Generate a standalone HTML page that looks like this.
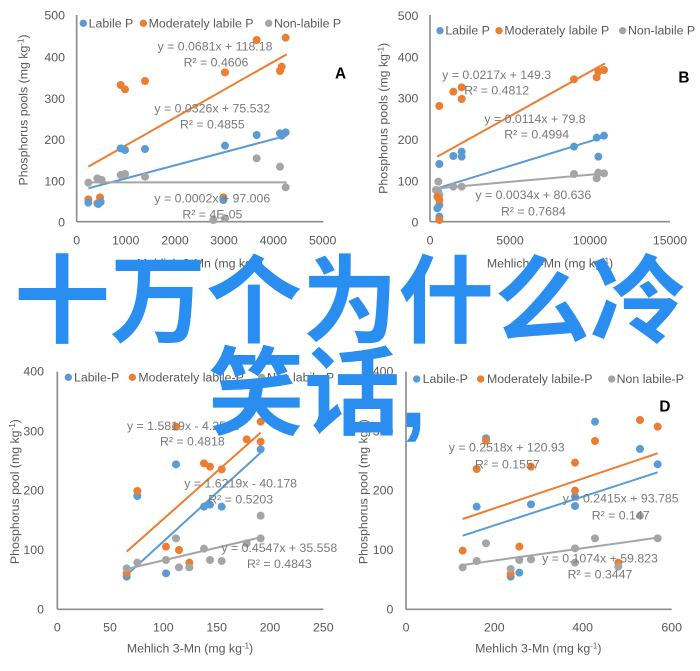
<!DOCTYPE html>
<html><head><meta charset="utf-8"><style>
html,body{margin:0;padding:0;background:#fff;width:700px;height:671px;overflow:hidden;position:relative}
svg{position:absolute;left:0;top:0}
.t{font-family:"Liberation Sans",sans-serif;fill:#595959;font-size:37px}
.e{font-family:"Liberation Sans",sans-serif;fill:#7a7a7a;font-size:37px}
.big{position:absolute;font-family:"Liberation Sans","Noto Sans CJK SC",sans-serif;font-weight:700;color:#2a8ef0;font-size:96px;line-height:96px;white-space:nowrap}
</style></head><body>
<svg width="700" height="671" viewBox="0 0 700 671">
<!-- Chart A -->
<g transform="translate(0,0) scale(0.33333)">
<line x1="230" y1="45" x2="230" y2="665" stroke="#8c8c8c" stroke-width="5"/>
<line x1="230" y1="665" x2="970" y2="665" stroke="#8c8c8c" stroke-width="5"/>
<g class="t" text-anchor="end"><text x="195" y="58">500</text><text x="195" y="184">400</text><text x="195" y="309">300</text><text x="195" y="432">200</text><text x="195" y="557">100</text><text x="195" y="680">0</text></g>
<g class="t" text-anchor="middle"><text x="230" y="734">0</text><text x="377" y="734">1000</text><text x="525" y="734">2000</text><text x="672" y="734">3000</text><text x="820" y="734">4000</text><text x="968" y="734">5000</text>
<text x="600" y="802">Mehlich 3-Mn (mg kg<tspan dy="-12" font-size="24">-1</tspan><tspan dy="12">)</tspan></text>
<text transform="translate(82,330) rotate(-90)">Phosphorus pools (mg kg<tspan dy="-12" font-size="24">-1</tspan><tspan dy="12">)</tspan></text></g>
<g class="t"><circle cx="250" cy="70" r="11" fill="#5b9bd5"/><text x="266" y="82">Labile P</text>
<circle cx="430" cy="70" r="11" fill="#ed7d31"/><text x="446" y="82">Moderately labile P</text>
<circle cx="806" cy="70" r="11" fill="#a5a5a5"/><text x="822" y="82">Non-labile P</text></g>
<text x="1005" y="235" font-family="Liberation Sans" font-weight="bold" font-size="46">A</text>
<line x1="265" y1="500" x2="860" y2="163" stroke="#ed7d31" stroke-width="6"/>
<line x1="265" y1="565" x2="860" y2="407" stroke="#5b9bd5" stroke-width="6"/>
<line x1="265" y1="547" x2="860" y2="547" stroke="#a5a5a5" stroke-width="6"/>
<g fill="#ed7d31"><circle cx="265" cy="598" r="12"/><circle cx="292" cy="610" r="12"/><circle cx="300" cy="592" r="12"/><circle cx="362" cy="255" r="12"/><circle cx="375" cy="268" r="12"/><circle cx="435" cy="243" r="12"/><circle cx="675" cy="217" r="12"/><circle cx="770" cy="120" r="12"/><circle cx="840" cy="213" r="12"/><circle cx="845" cy="200" r="12"/><circle cx="857" cy="113" r="12"/><circle cx="670" cy="592" r="12"/></g>
<g fill="#5b9bd5"><circle cx="265" cy="608" r="12"/><circle cx="295" cy="612" r="12"/><circle cx="302" cy="606" r="12"/><circle cx="362" cy="445" r="12"/><circle cx="375" cy="450" r="12"/><circle cx="435" cy="447" r="12"/><circle cx="675" cy="437" r="12"/><circle cx="770" cy="405" r="12"/><circle cx="840" cy="400" r="12"/><circle cx="845" cy="407" r="12"/><circle cx="857" cy="397" r="12"/><circle cx="670" cy="600" r="12"/></g>
<g fill="#a5a5a5"><circle cx="265" cy="548" r="12"/><circle cx="292" cy="535" r="12"/><circle cx="305" cy="540" r="12"/><circle cx="362" cy="525" r="12"/><circle cx="375" cy="522" r="12"/><circle cx="435" cy="530" r="12"/><circle cx="640" cy="660" r="12"/><circle cx="675" cy="655" r="12"/><circle cx="770" cy="475" r="12"/><circle cx="840" cy="500" r="12"/><circle cx="857" cy="562" r="12"/></g>
<g class="e" text-anchor="middle"><text x="645" y="152">y = 0.0681x + 118.18</text><text x="648" y="200">R² = 0.4606</text>
<text x="637" y="337">y = 0.0326x + 75.532</text><text x="637" y="385">R² = 0.4855</text>
<text x="637" y="608">y = 0.0002x + 97.006</text><text x="637" y="655">R² = 4E-05</text></g>
</g>
<!-- Chart B -->
<g transform="translate(350,0) scale(0.33333)">
<line x1="240" y1="45" x2="240" y2="665" stroke="#8c8c8c" stroke-width="5"/>
<line x1="240" y1="665" x2="960" y2="665" stroke="#8c8c8c" stroke-width="5"/>
<g class="t" text-anchor="end"><text x="205" y="60">500</text><text x="205" y="184">400</text><text x="205" y="307">300</text><text x="205" y="432">200</text><text x="205" y="557">100</text><text x="205" y="680">0</text></g>
<g class="t" text-anchor="middle"><text x="240" y="734">0</text><text x="480" y="734">5000</text><text x="720" y="734">10000</text><text x="960" y="734">15000</text>
<text x="600" y="802">Mehlich 3-Mn (mg kg<tspan dy="-12" font-size="24">-1</tspan><tspan dy="12">)</tspan></text>
<text transform="translate(112,355) rotate(-90)">Phosphorus pools (mg kg<tspan dy="-12" font-size="24">-1</tspan><tspan dy="12">)</tspan></text></g>
<g class="t"><circle cx="270" cy="92" r="11" fill="#5b9bd5"/><text x="286" y="104">Labile P</text>
<circle cx="447" cy="92" r="11" fill="#ed7d31"/><text x="463" y="104">Moderately labile P</text>
<circle cx="818" cy="92" r="11" fill="#a5a5a5"/><text x="834" y="104">Non-labile P</text></g>
<text x="985" y="248" font-family="Liberation Sans" font-weight="bold" font-size="46">B</text>
<line x1="262" y1="470" x2="765" y2="190" stroke="#ed7d31" stroke-width="6"/>
<line x1="262" y1="565" x2="765" y2="410" stroke="#5b9bd5" stroke-width="6"/>
<line x1="262" y1="565" x2="765" y2="520" stroke="#a5a5a5" stroke-width="6"/>
<g fill="#5b9bd5"><circle cx="268" cy="492" r="12"/><circle cx="310" cy="468" r="12"/><circle cx="335" cy="455" r="12"/><circle cx="335" cy="470" r="12"/><circle cx="672" cy="440" r="12"/><circle cx="740" cy="413" r="12"/><circle cx="745" cy="470" r="12"/><circle cx="762" cy="407" r="12"/><circle cx="262" cy="625" r="12"/><circle cx="268" cy="650" r="12"/><circle cx="268" cy="615" r="12"/></g>
<g fill="#a5a5a5"><circle cx="265" cy="545" r="12"/><circle cx="265" cy="575" r="12"/><circle cx="268" cy="585" r="12"/><circle cx="310" cy="560" r="12"/><circle cx="335" cy="560" r="12"/><circle cx="672" cy="522" r="12"/><circle cx="740" cy="535" r="12"/><circle cx="745" cy="518" r="12"/><circle cx="762" cy="520" r="12"/><circle cx="258" cy="570" r="12"/></g>
<g fill="#ed7d31"><circle cx="268" cy="318" r="12"/><circle cx="310" cy="275" r="12"/><circle cx="335" cy="262" r="12"/><circle cx="335" cy="297" r="12"/><circle cx="672" cy="238" r="12"/><circle cx="740" cy="232" r="12"/><circle cx="745" cy="215" r="12"/><circle cx="762" cy="210" r="12"/><circle cx="262" cy="590" r="12"/><circle cx="268" cy="600" r="12"/><circle cx="268" cy="660" r="12"/></g>
<g class="e" text-anchor="middle"><text x="440" y="237">y = 0.0217x + 149.3</text><text x="440" y="284">R² = 0.4812</text>
<text x="555" y="369">y = 0.0114x + 79.8</text><text x="560" y="416">R² = 0.4994</text>
<text x="550" y="597">y = 0.0034x + 80.636</text><text x="550" y="646">R² = 0.7684</text></g>
</g>
<!-- Chart C -->
<g transform="translate(0,370) scale(0.33333)">
<line x1="172" y1="5" x2="172" y2="718" stroke="#8c8c8c" stroke-width="5"/>
<line x1="172" y1="718" x2="970" y2="718" stroke="#8c8c8c" stroke-width="5"/>
<g class="t" text-anchor="end"><text x="132" y="17">400</text><text x="132" y="197">300</text><text x="132" y="374">200</text><text x="132" y="552">100</text><text x="132" y="730">0</text></g>
<g class="t" text-anchor="middle"><text x="172" y="784">0</text><text x="330" y="784">50</text><text x="490" y="784">100</text><text x="650" y="784">150</text><text x="810" y="784">200</text><text x="970" y="784">250</text>
<text x="570" y="847">Mehlich 3-Mn (mg kg<tspan dy="-12" font-size="24">-1</tspan><tspan dy="12">)</tspan></text>
<text transform="translate(57,365) rotate(-90)">Phosphorus pool (mg kg<tspan dy="-12" font-size="24">-1</tspan><tspan dy="12">)</tspan></text></g>
<g class="t"><circle cx="205" cy="22" r="11" fill="#5b9bd5"/><text x="222" y="34">Labile-P</text>
<circle cx="397" cy="22" r="11" fill="#ed7d31"/><text x="415" y="34">Moderately labile-P</text>
<circle cx="785" cy="22" r="11" fill="#a5a5a5"/><text x="801" y="34">Non labile-P</text></g>
<line x1="380" y1="545" x2="782" y2="188" stroke="#ed7d31" stroke-width="6"/>
<line x1="380" y1="615" x2="782" y2="248" stroke="#5b9bd5" stroke-width="6"/>
<line x1="380" y1="597" x2="782" y2="502" stroke="#a5a5a5" stroke-width="6"/>
<g fill="#5b9bd5"><circle cx="380" cy="620" r="12"/><circle cx="412" cy="378" r="12"/><circle cx="498" cy="610" r="12"/><circle cx="528" cy="283" r="12"/><circle cx="612" cy="410" r="12"/><circle cx="630" cy="404" r="12"/><circle cx="665" cy="410" r="12"/><circle cx="782" cy="238" r="12"/></g>
<g fill="#ed7d31"><circle cx="380" cy="610" r="12"/><circle cx="412" cy="363" r="12"/><circle cx="498" cy="530" r="12"/><circle cx="528" cy="170" r="12"/><circle cx="537" cy="540" r="12"/><circle cx="568" cy="578" r="12"/><circle cx="612" cy="280" r="12"/><circle cx="630" cy="290" r="12"/><circle cx="665" cy="298" r="12"/><circle cx="740" cy="208" r="12"/><circle cx="782" cy="155" r="12"/><circle cx="782" cy="215" r="12"/></g>
<g fill="#a5a5a5"><circle cx="380" cy="595" r="12"/><circle cx="412" cy="578" r="12"/><circle cx="498" cy="570" r="12"/><circle cx="528" cy="505" r="12"/><circle cx="537" cy="592" r="12"/><circle cx="568" cy="592" r="12"/><circle cx="612" cy="536" r="12"/><circle cx="630" cy="570" r="12"/><circle cx="665" cy="573" r="12"/><circle cx="740" cy="520" r="12"/><circle cx="782" cy="437" r="12"/><circle cx="782" cy="505" r="12"/></g>
<g class="e" text-anchor="middle"><text x="550" y="180">y = 1.5819x - 4.2558</text><text x="577" y="227">R² = 0.4818</text>
<text x="722" y="352">y = 1.6219x - 40.178</text><text x="722" y="400">R² = 0.5203</text>
<text x="838" y="546">y = 0.4547x + 35.558</text><text x="838" y="594">R² = 0.4843</text></g>
</g>
<!-- Chart D -->
<g transform="translate(350,370) scale(0.33333)">
<line x1="168" y1="5" x2="168" y2="718" stroke="#8c8c8c" stroke-width="5"/>
<line x1="168" y1="718" x2="965" y2="718" stroke="#8c8c8c" stroke-width="5"/>
<g class="t" text-anchor="end"><text x="130" y="17">400</text><text x="130" y="197">300</text><text x="130" y="374">200</text><text x="130" y="552">100</text><text x="130" y="730">0</text></g>
<g class="t" text-anchor="middle"><text x="168" y="784">0</text><text x="433" y="784">200</text><text x="698" y="784">400</text><text x="965" y="784">600</text>
<text x="565" y="847">Mehlich 3-Mn (mg kg<tspan dy="-12" font-size="24">-1</tspan><tspan dy="12">)</tspan></text>
<text transform="translate(52,365) rotate(-90)">Phosphorus pool (mg kg<tspan dy="-12" font-size="24">-1</tspan><tspan dy="12">)</tspan></text></g>
<g class="t"><circle cx="200" cy="27" r="11" fill="#5b9bd5"/><text x="218" y="39">Labile-P</text>
<circle cx="392" cy="27" r="11" fill="#ed7d31"/><text x="411" y="39">Moderately labile-P</text>
<circle cx="785" cy="27" r="11" fill="#a5a5a5"/><text x="800" y="39">Non labile-P</text></g>
<text x="928" y="125" font-family="Liberation Sans" font-weight="bold" font-size="46">D</text>
<line x1="338" y1="447" x2="923" y2="250" stroke="#ed7d31" stroke-width="6"/>
<line x1="338" y1="497" x2="923" y2="307" stroke="#5b9bd5" stroke-width="6"/>
<line x1="338" y1="585" x2="923" y2="503" stroke="#a5a5a5" stroke-width="6"/>
<g fill="#5b9bd5"><circle cx="380" cy="410" r="12"/><circle cx="408" cy="205" r="12"/><circle cx="543" cy="403" r="12"/><circle cx="675" cy="408" r="12"/><circle cx="675" cy="380" r="12"/><circle cx="735" cy="155" r="12"/><circle cx="870" cy="237" r="12"/><circle cx="923" cy="283" r="12"/><circle cx="482" cy="620" r="12"/><circle cx="508" cy="608" r="12"/></g>
<g fill="#ed7d31"><circle cx="338" cy="542" r="12"/><circle cx="380" cy="297" r="12"/><circle cx="408" cy="212" r="12"/><circle cx="508" cy="530" r="12"/><circle cx="543" cy="290" r="12"/><circle cx="675" cy="278" r="12"/><circle cx="675" cy="362" r="12"/><circle cx="735" cy="213" r="12"/><circle cx="870" cy="150" r="12"/><circle cx="923" cy="170" r="12"/><circle cx="482" cy="612" r="12"/><circle cx="805" cy="578" r="12"/></g>
<g fill="#a5a5a5"><circle cx="338" cy="592" r="12"/><circle cx="380" cy="573" r="12"/><circle cx="408" cy="520" r="12"/><circle cx="482" cy="597" r="12"/><circle cx="508" cy="570" r="12"/><circle cx="543" cy="568" r="12"/><circle cx="675" cy="535" r="12"/><circle cx="675" cy="578" r="12"/><circle cx="735" cy="505" r="12"/><circle cx="805" cy="590" r="12"/><circle cx="870" cy="437" r="12"/><circle cx="923" cy="505" r="12"/></g>
<g class="e" text-anchor="middle"><text x="470" y="244">y = 0.2518x + 120.93</text><text x="472" y="295">R² = 0.1557</text>
<text x="812" y="397">y = 0.2415x + 93.785</text><text x="812" y="448">R² = 0.147</text>
<text x="750" y="578">y = 0.1074x + 59.823</text><text x="750" y="625">R² = 0.3447</text></g>
</g>
</svg>
<div class="big" style="left:14px;top:255px">十万个为什么冷</div>
<div class="big" style="left:208px;top:347px">笑话,</div>
</body></html>
